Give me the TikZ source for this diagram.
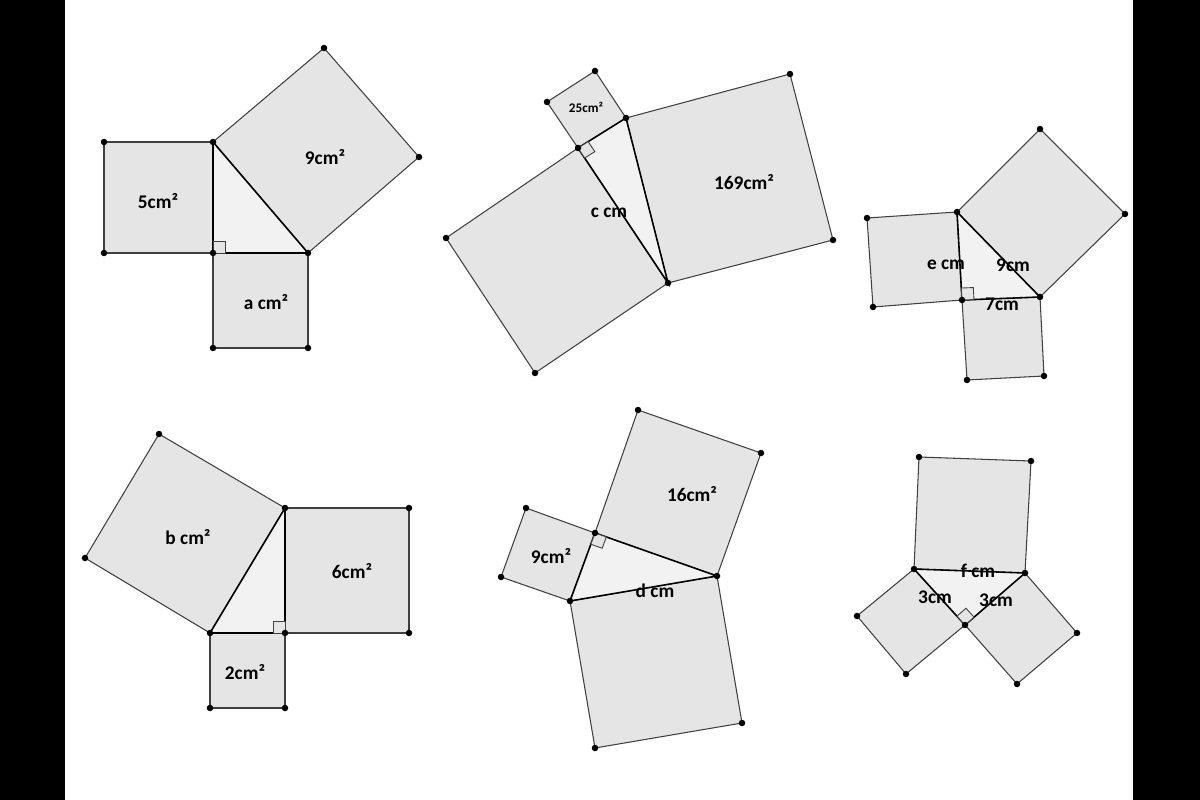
\documentclass[tikz,border=0pt]{standalone}
\usepackage{fontspec}
\setmainfont{Carlito}
\usetikzlibrary{calc}
\tikzset{sq/.style={fill=black!10,draw=black!75,line width=0.6pt},
tri/.style={fill=black!5,draw=black,line width=0.9pt},
lbl/.style={font=\bfseries\fontsize{11}{12}\selectfont},
slbl/.style={font=\bfseries\fontsize{7.5}{8}\selectfont},
ra/.style={draw=black!75,line width=0.5pt,fill=black!10}}
\newcommand{\ramark}[3]{\draw[ra] (#1) -- ($(#1)!0.24cm!(#2)$) -- ($($(#1)!0.24cm!(#2)$)+($(#1)!0.24cm!(#3)$)-(#1)$) -- ($(#1)!0.24cm!(#3)$) -- cycle;}
\newcommand{\vdotsall}[1]{\foreach \p in {#1} \fill (\p) circle (0.065cm);}
\begin{document}
\begin{tikzpicture}[x=0.02cm,y=-0.02cm]
\useasboundingbox (0,0) rectangle (1200,800);
\fill[black] (0,0) rectangle (65,800);
\fill[black] (1133,0) rectangle (1200,800);
% Fig 1
\coordinate (a1) at (104,142); \coordinate (a2) at (213,142); \coordinate (a3) at (213,253); \coordinate (a4) at (104,253);
\coordinate (a5) at (308,253); \coordinate (a6) at (419,157); \coordinate (a7) at (324,48);
\coordinate (a8) at (308,348); \coordinate (a9) at (213,348);
\draw[sq] (a1)--(a2)--(a3)--(a4)--cycle;
\draw[sq] (a2)--(a5)--(a6)--(a7)--cycle;
\draw[sq] (a3)--(a5)--(a8)--(a9)--cycle;
\draw[tri] (a2)--(a3)--(a5)--cycle;
\ramark{a3}{a2}{a5}
\vdotsall{a1,a2,a3,a4,a5,a6,a7,a8,a9}
\node[lbl] (t1) at (158,201) {5cm²};
\node[lbl] (t2) at (325,157) {9cm²};
\node[lbl] (t3) at (266,302) {a cm²};
% Fig 2
\coordinate (b1) at (578,148); \coordinate (b2) at (626,118); \coordinate (b3) at (668,283);
\coordinate (b4) at (595,71); \coordinate (b5) at (547,102);
\coordinate (b6) at (833,240); \coordinate (b7) at (790,74);
\coordinate (b8) at (535,373); \coordinate (b9) at (446,238);
\draw[sq] (b1)--(b2)--(b4)--(b5)--cycle;
\draw[sq] (b2)--(b3)--(b6)--(b7)--cycle;
\draw[sq] (b1)--(b3)--(b8)--(b9)--cycle;
\draw[tri] (b1)--(b2)--(b3)--cycle;
\ramark{b1}{b2}{b3}
\vdotsall{b1,b2,b3,b4,b5,b6,b7,b8,b9}
\node[slbl] (t4) at (586,107) {25cm²};
\node[lbl] (t5) at (744,182) {169cm²};
\node[lbl] (t6) at (609,213) {c cm};
% Fig 3
\coordinate (c1) at (957,212); \coordinate (c2) at (962,300); \coordinate (c3) at (1040,297);
\coordinate (c4) at (873,307); \coordinate (c5) at (867,218);
\coordinate (c6) at (1125,214); \coordinate (c7) at (1040,129);
\coordinate (c8) at (1044,376); \coordinate (c9) at (967,380);
\draw[sq] (c1)--(c2)--(c4)--(c5)--cycle;
\draw[sq] (c1)--(c3)--(c6)--(c7)--cycle;
\draw[sq] (c2)--(c3)--(c8)--(c9)--cycle;
\draw[tri] (c1)--(c2)--(c3)--cycle;
\ramark{c2}{c1}{c3}
\vdotsall{c1,c2,c3,c4,c5,c6,c7,c8,c9}
\node[lbl] (t7) at (946,265) {e cm};
\node[lbl] (t8) at (1013,265) {9cm};
\node[lbl] (t9) at (1002,304) {7cm};
% Fig 4
\coordinate (d1) at (210,633); \coordinate (d2) at (285,633); \coordinate (d3) at (285,508);
\coordinate (d4) at (409,508); \coordinate (d5) at (409,633);
\coordinate (d6) at (285,708); \coordinate (d7) at (210,708);
\coordinate (d8) at (159,434); \coordinate (d9) at (85,558);
\draw[sq] (d3)--(d4)--(d5)--(d2)--cycle;
\draw[sq] (d1)--(d2)--(d6)--(d7)--cycle;
\draw[sq] (d1)--(d3)--(d8)--(d9)--cycle;
\draw[tri] (d1)--(d2)--(d3)--cycle;
\ramark{d2}{d1}{d3}
\vdotsall{d1,d2,d3,d4,d5,d6,d7,d8,d9}
\node[lbl] (t10) at (188,537) {b cm²};
\node[lbl] (t11) at (352,571) {6cm²};
\node[lbl] (t12) at (245,672) {2cm²};
% Fig 5
\coordinate (e1) at (595,533); \coordinate (e2) at (717,576); \coordinate (e3) at (570,601);
\coordinate (e4) at (501,577); \coordinate (e5) at (526,508);
\coordinate (e6) at (761,453); \coordinate (e7) at (638,410);
\coordinate (e8) at (742,723); \coordinate (e9) at (595,748);
\draw[sq] (e1)--(e3)--(e4)--(e5)--cycle;
\draw[sq] (e1)--(e2)--(e6)--(e7)--cycle;
\draw[sq] (e3)--(e2)--(e8)--(e9)--cycle;
\draw[tri] (e1)--(e2)--(e3)--cycle;
\ramark{e1}{e2}{e3}
\vdotsall{e1,e2,e3,e4,e5,e6,e7,e8,e9}
\node[lbl] (t13) at (551,556) {9cm²};
\node[lbl] (t14) at (692,494) {16cm²};
\node[lbl] (t15) at (655,591) {d cm};
% Fig 6
\coordinate (f1) at (914,569); \coordinate (f2) at (1025,573); \coordinate (f3) at (965,625);
\coordinate (f4) at (1031,461); \coordinate (f5) at (919,457);
\coordinate (f6) at (906,674); \coordinate (f7) at (857,616);
\coordinate (f8) at (1017,684); \coordinate (f9) at (1077,633);
\draw[sq] (f1)--(f2)--(f4)--(f5)--cycle;
\draw[sq] (f1)--(f3)--(f6)--(f7)--cycle;
\draw[sq] (f2)--(f3)--(f8)--(f9)--cycle;
\draw[tri] (f1)--(f2)--(f3)--cycle;
\ramark{f3}{f1}{f2}
\vdotsall{f1,f2,f3,f4,f5,f6,f7,f8,f9}
\node[lbl] (t16) at (978,571) {f cm};
\node[lbl] (t17) at (935,597) {3cm};
\node[lbl] (t18) at (996,600) {3cm};
\end{tikzpicture}
\end{document}
